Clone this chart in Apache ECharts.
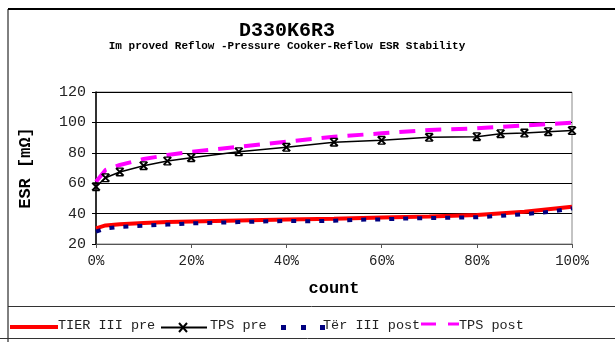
<!DOCTYPE html>
<html>
<head>
<meta charset="utf-8">
<script src="https://cdn.jsdelivr.net/npm/echarts@6/dist/echarts.min.js"></script>
<style>
  html, body { margin: 0; padding: 0; background: #fff; }
  #main { width: 615px; height: 342px; }
</style>
</head>
<body>
<div id="main"></div>
<script>
var FONT = '"Liberation Mono", "DejaVu Sans Mono", monospace';

// x positions (percent of count) for each series
var tierPreX  = [0, 2, 5, 10, 15, 20, 30, 40, 50, 60, 70, 80, 90, 100];
var tierPreY  = [30.3, 32.2, 33, 33.8, 34.4, 34.8, 35.5, 36.1, 36.6, 37.5, 38.1, 39, 41.2, 44.5];

var tpsPreX   = [0, 2, 5, 10, 15, 20, 30, 40, 50, 60, 70, 80, 85, 90, 95, 100];
var tpsPreY   = [57.7, 63.6, 67.4, 71.5, 74.6, 76.8, 80.7, 83.6, 87, 88.2, 90.2, 90.6, 92.6, 93, 93.9, 94.6];

var tierPostX = [0, 2, 5, 10, 15, 20, 25, 30, 35, 40, 45, 50, 55, 60, 65, 70, 75, 80, 85, 90, 95, 100];
var tierPostY = [28.1, 30.3, 31.3, 32, 32.8, 33.6, 34, 34.4, 34.8, 35.2, 35, 35.3, 36, 36.2, 36.8, 37, 37.3, 37.6, 38.5, 39.7, 41, 43.5];

var tpsPostX  = [0, 2, 5, 10, 15, 20, 25, 30, 40, 50, 60, 70, 80, 90, 100];
var tpsPostY  = [61, 68.7, 72, 75.9, 78.5, 80.7, 82.3, 84, 87.3, 90.6, 92.8, 95, 96.1, 98, 99.8];

var seriesNames = ['TIER III pre', 'TPS pre', 'Tër III post', 'TPS post'];

var X_MARK = 'path://M0,1.5L1.5,0L10,8.5L8.5,10Z M8.5,0L10,1.5L1.5,10L0,8.5Z M1,0H9V1.5H1Z M1,8.5H9V10H1Z';

function pairs(xs, ys) {
  return xs.map(function (x, i) { return [x, ys[i]]; });
}

// hand-drawn legend strip (Excel style: no gap between key and text)
function legendText(x, str) {
  return {
    type: 'text', x: x, y: 325,
    style: {
      text: str, fill: '#222', font: '13.5px ' + FONT,
      textVerticalAlign: 'middle', textAlign: 'left'
    }
  };
}
function seg(x1, y1, x2, y2, color, w) {
  return { type: 'line', shape: { x1: x1, y1: y1, x2: x2, y2: y2 }, style: { stroke: color, lineWidth: w } };
}

var chart = echarts.init(document.getElementById('main'), null, { renderer: 'canvas' });

var option = {
  animation: false,
  backgroundColor: '#fff',
  textStyle: { fontFamily: FONT },
  title: [
    {
      text: 'D330K6R3',
      left: 282, top: 16, textAlign: 'center',
      textStyle: { fontFamily: FONT, fontSize: 20, fontWeight: 'bold', color: '#000' }
    },
    {
      text: 'Im proved Reflow -Pressure Cooker-Reflow ESR Stability',
      left: 282, top: 36, textAlign: 'center',
      textStyle: { fontFamily: FONT, fontSize: 11, fontWeight: 'bold', color: '#000' }
    }
  ],
  grid: {
    left: 96, right: 43, top: 92, bottom: 98,
    show: true, borderColor: '#888', borderWidth: 1
  },
  xAxis: {
    type: 'value',
    min: 0, max: 100, interval: 20,
    name: 'count',
    nameLocation: 'middle',
    nameGap: 36,
    nameTextStyle: { fontFamily: FONT, fontSize: 17, fontWeight: 'bold', color: '#000' },
    axisLine: { lineStyle: { color: '#555', width: 1 } },
    axisTick: { show: true, length: 4, lineStyle: { color: '#555' } },
    axisLabel: {
      formatter: '{value}%', margin: 10,
      fontFamily: FONT, fontSize: 14, color: '#222'
    },
    splitLine: { show: false }
  },
  yAxis: {
    type: 'value',
    min: 20, max: 120, interval: 20,
    name: 'ESR [mΩ]',
    nameLocation: 'middle',
    nameGap: 62,
    nameTextStyle: { fontFamily: FONT, fontSize: 17, fontWeight: 'bold', color: '#000' },
    axisLine: { show: true, lineStyle: { color: '#000', width: 1.5 } },
    axisTick: { show: true, length: 4, lineStyle: { color: '#000' } },
    axisLabel: { margin: 10, fontFamily: FONT, fontSize: 15, color: '#222' },
    splitLine: { show: true, lineStyle: { color: '#000', width: 1 } }
  },
  series: [
    {
      name: seriesNames[0], type: 'line',
      data: pairs(tierPreX, tierPreY),
      symbol: 'none',
      lineStyle: { color: '#ff0000', width: 4 },
      itemStyle: { color: '#ff0000' },
      z: 2
    },
    {
      name: seriesNames[1], type: 'line',
      data: pairs(tpsPreX, tpsPreY),
      symbol: X_MARK,
      symbolSize: 9,
      lineStyle: { color: '#000', width: 1.5 },
      itemStyle: { color: '#000' },
      z: 4
    },
    {
      name: seriesNames[2], type: 'line',
      data: pairs(tierPostX, tierPostY),
      symbol: 'none',
      lineStyle: { color: '#000080', width: 4, type: [5, 9] },
      itemStyle: { color: '#000080' },
      z: 3
    },
    {
      name: seriesNames[3], type: 'line',
      data: pairs(tpsPostX, tpsPostY),
      symbol: 'none',
      lineStyle: { color: '#ff00ff', width: 4, type: [16, 10] },
      itemStyle: { color: '#ff00ff' },
      z: 3
    }
  ],
  graphic: [
    // frame
    seg(8, 9, 615, 9, '#000', 2),
    seg(8, 9, 8, 342, '#000', 1),
    seg(8, 306.5, 615, 306.5, '#333', 1),
    seg(0, 338.5, 615, 338.5, '#333', 1),
    // legend keys
    seg(10, 327, 58, 327, '#ff0000', 4),
    legendText(58, seriesNames[0]),
    seg(161, 327.5, 207, 327.5, '#000', 2),
    seg(179, 323, 187, 332, '#000', 2),
    seg(187, 323, 179, 332, '#000', 2),
    legendText(210, seriesNames[1]),
    { type: 'rect', shape: { x: 281, y: 325, width: 5, height: 5 }, style: { fill: '#000080' } },
    { type: 'rect', shape: { x: 301, y: 325, width: 5, height: 5 }, style: { fill: '#000080' } },
    { type: 'rect', shape: { x: 320, y: 325, width: 5, height: 5 }, style: { fill: '#000080' } },
    legendText(323, seriesNames[2]),
    seg(421, 324, 436, 324, '#ff00ff', 3),
    seg(448, 324, 459, 324, '#ff00ff', 3),
    legendText(459, seriesNames[3])
  ]
};

chart.setOption(option);
</script>
</body>
</html>
